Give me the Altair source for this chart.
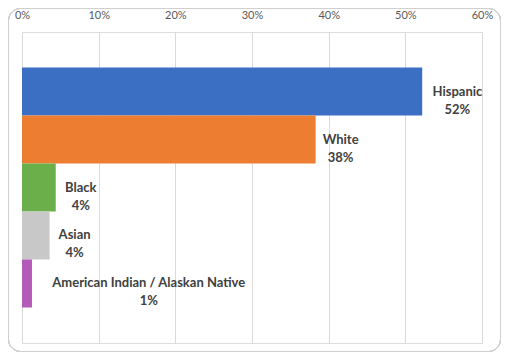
import altair as alt
import pandas as pd

categories = ["Hispanic", "White", "Black", "Asian", "American Indian / Alaskan Native"]
values = [52.2, 38.3, 4.4, 3.6, 1.3]
pct_labels = ["52%", "38%", "4%", "4%", "1%"]
colors = ["#3A6FC4", "#ED7D31", "#6BAF4A", "#C8C8C8", "#B45AB8"]
ticks = [0, 10, 20, 30, 40, 50, 60]

df = pd.DataFrame({"name": categories, "value": values, "pct": pct_labels})

W, H = 460, 311
PAD_L, PAD_T = 14, 24
TOTAL_W, TOTAL_H = 493, 344
PX_PER_UNIT = W / 60.0

y_enc = alt.Y("name:N", sort=categories, axis=None,
              scale=alt.Scale(paddingInner=0, paddingOuter=0.74))

bars = alt.Chart(df).mark_bar().encode(
    x=alt.X("value:Q",
            scale=alt.Scale(domain=[0, 60], nice=False),
            axis=alt.Axis(orient="top", values=ticks, labelExpr="datum.value + '%'",
                          title=None, domain=False, ticks=False, labelFlush=False,
                          labelColor="#595959", labelFont="Lato", labelFontSize=11,
                          labelPadding=12, grid=True, gridColor="#D9D9D9")),
    y=y_enc,
    color=alt.Color("name:N", scale=alt.Scale(domain=categories, range=colors), legend=None),
)

labels = alt.Chart(df).transform_calculate(
    lx=f"datum.value + (8 + length(datum.name) * 3.4) / {PX_PER_UNIT}",
    txt="[datum.name, datum.pct]",
).mark_text(font="Lato", fontSize=13, fontWeight="bold", color="#404040",
            align="center", baseline="middle", lineHeight=18).encode(
    x="lx:Q",
    y=y_enc,
    text="txt:N",
)

frame = alt.Chart(df).mark_rect(cornerRadius=12, fill=None, stroke="#D0D0D0",
                                strokeWidth=1).encode(
    x=alt.value(0.5 - PAD_L), x2=alt.value(TOTAL_W - 0.5 - PAD_L),
    y=alt.value(0.5 - PAD_T), y2=alt.value(TOTAL_H - 0.5 - PAD_T),
)

chart = alt.layer(bars, labels, frame).properties(
    width=W, height=H,
    autosize=alt.AutoSizeParams(type="none"),
    padding={"left": PAD_L, "top": PAD_T,
             "right": TOTAL_W - PAD_L - W, "bottom": TOTAL_H - PAD_T - H},
).configure_view(stroke=None).configure(background="white")

chart.save("out.html", embed_options={"renderer": "svg", "actions": False})
